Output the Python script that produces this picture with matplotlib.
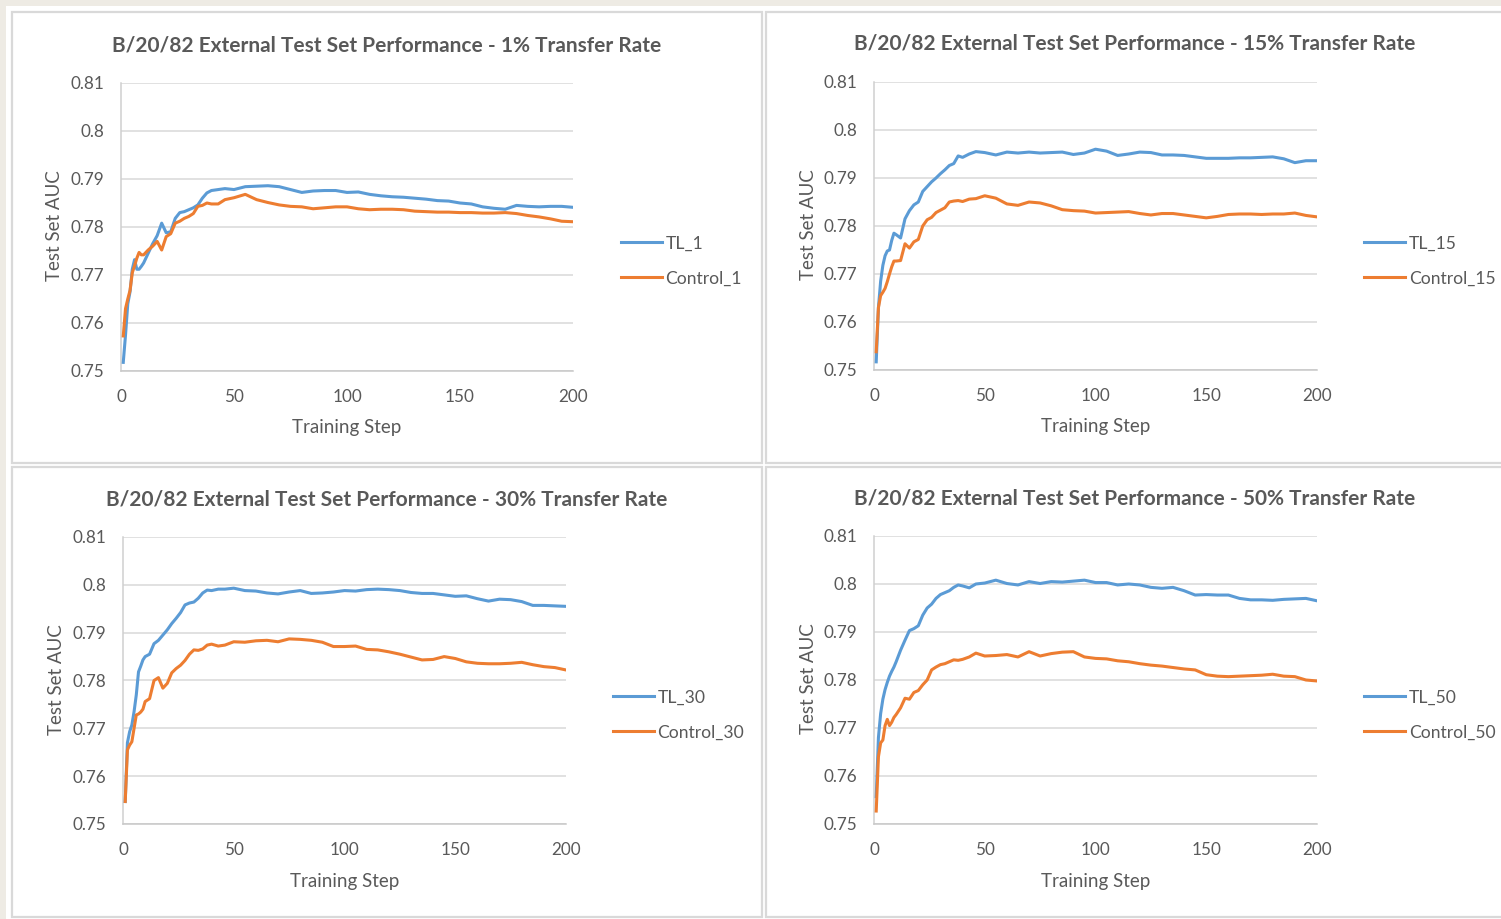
import matplotlib
matplotlib.use("Agg")
import matplotlib.pyplot as plt
from matplotlib.patches import Rectangle

# training steps at which the AUC was recorded
steps = [1, 2, 3, 4, 5, 6, 7, 8, 9, 10,
         12, 14, 16, 18, 20, 22, 24, 26, 28, 30, 32, 34, 36, 38, 40,
         43, 46, 50, 55, 60, 65, 70, 75, 80, 85, 90, 95, 100,
         105, 110, 115, 120, 125, 130, 135, 140, 145, 150,
         155, 160, 165, 170, 175, 180, 185, 190, 195, 200]

tl_1 = [0.7518, 0.7575, 0.7640, 0.7665, 0.7712, 0.7732, 0.7712, 0.7712, 0.7718, 0.7725,
        0.7745, 0.7765, 0.7782, 0.7808, 0.7788, 0.7790, 0.7818, 0.7830, 0.7832, 0.7836,
        0.7840, 0.7846, 0.7860, 0.7871, 0.7876,
        0.7878, 0.7880, 0.7878, 0.7884, 0.7885, 0.7886, 0.7884, 0.7878, 0.7872, 0.7875,
        0.7876, 0.7876, 0.7872, 0.7873, 0.7868, 0.7865, 0.7863, 0.7862, 0.7860, 0.7858,
        0.7855, 0.7854, 0.7850, 0.7848, 0.7842, 0.7839, 0.7837, 0.7845, 0.7843, 0.7842,
        0.7843, 0.7843, 0.7841]
control_1 = [0.7573, 0.7630, 0.7650, 0.7668, 0.7705, 0.7719, 0.7735, 0.7747, 0.7742, 0.7742,
             0.7752, 0.7760, 0.7770, 0.7752, 0.7780, 0.7786, 0.7808, 0.7812, 0.7818, 0.7822,
             0.7828, 0.7843, 0.7845, 0.7850, 0.7848,
             0.7848, 0.7857, 0.7861, 0.7868, 0.7857, 0.7851, 0.7846, 0.7843, 0.7842, 0.7838,
             0.7840, 0.7842, 0.7842, 0.7838, 0.7836, 0.7837, 0.7837, 0.7836, 0.7833, 0.7832,
             0.7831, 0.7831, 0.7830, 0.7830, 0.7829, 0.7829, 0.7830, 0.7828, 0.7824, 0.7821,
             0.7817, 0.7812, 0.7811]

tl_15 = [0.7517, 0.7630, 0.7685, 0.7718, 0.7738, 0.7748, 0.7750, 0.7770, 0.7785, 0.7782,
         0.7775, 0.7815, 0.7832, 0.7844, 0.7850, 0.7872, 0.7882, 0.7892, 0.7900, 0.7909,
         0.7917, 0.7926, 0.7930, 0.7946, 0.7943,
         0.7950, 0.7955, 0.7953, 0.7948, 0.7954, 0.7952, 0.7954, 0.7952, 0.7953, 0.7954,
         0.7949, 0.7952, 0.7960, 0.7956, 0.7947, 0.7950, 0.7954, 0.7953, 0.7948, 0.7948,
         0.7947, 0.7944, 0.7941, 0.7941, 0.7941, 0.7942, 0.7942, 0.7943, 0.7944, 0.7940,
         0.7932, 0.7936, 0.7936]
control_15 = [0.7538, 0.7630, 0.7655, 0.7662, 0.7670, 0.7684, 0.7700, 0.7715, 0.7727, 0.7727,
              0.7728, 0.7763, 0.7754, 0.7767, 0.7772, 0.7800, 0.7813, 0.7818, 0.7828, 0.7833,
              0.7838, 0.7850, 0.7852, 0.7853, 0.7851,
              0.7856, 0.7857, 0.7863, 0.7858, 0.7846, 0.7843, 0.7850, 0.7848, 0.7842, 0.7834,
              0.7832, 0.7831, 0.7827, 0.7828, 0.7829, 0.7830, 0.7826, 0.7823, 0.7826, 0.7826,
              0.7823, 0.7820, 0.7817, 0.7820, 0.7824, 0.7825, 0.7825, 0.7824, 0.7825, 0.7825,
              0.7827, 0.7822, 0.7819]

tl_30 = [0.7547, 0.7670, 0.7693, 0.7707, 0.7735, 0.7770, 0.7818, 0.7830, 0.7843, 0.7850,
         0.7855, 0.7877, 0.7884, 0.7895, 0.7906, 0.7919, 0.7930, 0.7942, 0.7958, 0.7962,
         0.7964, 0.7972, 0.7983, 0.7989, 0.7988,
         0.7991, 0.7991, 0.7993, 0.7988, 0.7987, 0.7983, 0.7981, 0.7985, 0.7988, 0.7982,
         0.7983, 0.7985, 0.7988, 0.7987, 0.7990, 0.7991, 0.7990, 0.7988, 0.7984, 0.7982,
         0.7982, 0.7979, 0.7976, 0.7977, 0.7971, 0.7966, 0.7970, 0.7969, 0.7965, 0.7957,
         0.7957, 0.7956, 0.7955]
control_30 = [0.7547, 0.7655, 0.7665, 0.7672, 0.7700, 0.7728, 0.7730, 0.7734, 0.7740, 0.7756,
              0.7762, 0.7800, 0.7806, 0.7784, 0.7794, 0.7816, 0.7825, 0.7832, 0.7842, 0.7855,
              0.7864, 0.7863, 0.7866, 0.7874, 0.7876,
              0.7872, 0.7874, 0.7881, 0.7880, 0.7883, 0.7884, 0.7881, 0.7887, 0.7886, 0.7884,
              0.7880, 0.7871, 0.7871, 0.7872, 0.7865, 0.7864, 0.7860, 0.7855, 0.7849, 0.7843,
              0.7844, 0.7850, 0.7846, 0.7839, 0.7836, 0.7835, 0.7835, 0.7836, 0.7838, 0.7833,
              0.7829, 0.7827, 0.7822]

tl_50 = [0.7557, 0.7680, 0.7730, 0.7760, 0.7780, 0.7795, 0.7808, 0.7818, 0.7827, 0.7838,
         0.7862, 0.7883, 0.7903, 0.7907, 0.7913, 0.7935, 0.7950, 0.7958, 0.7970, 0.7978,
         0.7982, 0.7986, 0.7993, 0.7998, 0.7996,
         0.7992, 0.8000, 0.8002, 0.8008, 0.8001, 0.7998, 0.8005, 0.8001, 0.8005, 0.8004,
         0.8006, 0.8008, 0.8003, 0.8003, 0.7998, 0.8000, 0.7998, 0.7993, 0.7991, 0.7993,
         0.7986, 0.7977, 0.7978, 0.7977, 0.7977, 0.7970, 0.7967, 0.7967, 0.7966, 0.7968,
         0.7969, 0.7970, 0.7965]
control_50 = [0.7527, 0.7640, 0.7669, 0.7675, 0.7705, 0.7718, 0.7705, 0.7712, 0.7722, 0.7728,
              0.7742, 0.7762, 0.7760, 0.7774, 0.7778, 0.7790, 0.7800, 0.7821, 0.7827, 0.7832,
              0.7834, 0.7838, 0.7842, 0.7841, 0.7843,
              0.7848, 0.7856, 0.7850, 0.7851, 0.7853, 0.7848, 0.7859, 0.7850, 0.7855, 0.7858,
              0.7859, 0.7848, 0.7845, 0.7844, 0.7840, 0.7838, 0.7834, 0.7831, 0.7829, 0.7826,
              0.7823, 0.7821, 0.7811, 0.7808, 0.7807, 0.7808, 0.7809, 0.7810, 0.7812, 0.7808,
              0.7807, 0.7800, 0.7798]

rates = [1, 15, 30, 50]
yticks = [0.75, 0.76, 0.77, 0.78, 0.79, 0.80, 0.81]
ytick_labels = ["0.75", "0.76", "0.77", "0.78", "0.79", "0.8", "0.81"]
xticks = [0, 50, 100, 150, 200]

W, H = 1501, 919
BLUE = "#5B9BD5"
ORANGE = "#ED7D31"
GREY_TXT = "#595959"
GRID = "#D9D9D9"

plt.rcParams["font.family"] = ["Lato", "DejaVu Sans"]

fig = plt.figure(figsize=(W / 100, H / 100), dpi=100)
fig.patch.set_facecolor("#EEEBE4")


def box(x0, y0, x1, y1, **kw):
    # rectangle given in pixel coords measured from the top-left corner
    r = Rectangle((x0 / W, 1 - y1 / H), (x1 - x0) / W, (y1 - y0) / H,
                  transform=fig.transFigure, zorder=-2, **kw)
    fig.add_artist(r)


box(6, 6, W + 5, H + 5, facecolor="white", edgecolor="none")

# (panel box, axes box, legend left/centre) in pixels
layout = [
    ((12, 12, 762, 463), (121, 83, 573, 371), (621, 261)),
    ((766, 12, W + 4, 463), (874, 82, 1317, 370), (1364, 261)),
    ((12, 467, 762, 917), (123, 537, 566, 824), (613, 715)),
    ((766, 467, W + 4, 917), (874, 536, 1317, 824), (1364, 715)),
]
series = [(tl_1, control_1), (tl_15, control_15), (tl_30, control_30), (tl_50, control_50)]

for rate, (tl, ctrl), (pbox, abox, leg) in zip(rates, series, layout):
    box(*pbox, facecolor="white", edgecolor=GRID, linewidth=1.6)
    l, t, r, b = abox
    ax = fig.add_axes([l / W, 1 - b / H, (r - l) / W, (b - t) / H])
    ax.set_facecolor("none")
    ax.plot(steps, tl, color=BLUE, lw=2.2, label="TL_%d" % rate, zorder=3)
    ax.plot(steps, ctrl, color=ORANGE, lw=2.2, label="Control_%d" % rate, zorder=3)

    ax.set_xlim(0, 200)
    ax.set_ylim(0.75, 0.81)
    ax.set_xticks(xticks)
    ax.set_yticks(yticks)
    ax.set_yticklabels(ytick_labels)
    ax.grid(axis="y", color=GRID, lw=1.1, zorder=0)
    ax.set_axisbelow(True)
    for s in ["top", "right"]:
        ax.spines[s].set_visible(False)
    ax.spines["left"].set_color("#D0D0D0")
    ax.spines["bottom"].set_color("#C8C8C8")
    ax.spines["left"].set_linewidth(1.1)
    ax.spines["bottom"].set_linewidth(1.1)
    ax.tick_params(axis="y", length=0, pad=12, labelsize=12.3, labelcolor=GREY_TXT)
    ax.tick_params(axis="x", length=0, pad=13, labelsize=12.3, labelcolor=GREY_TXT)

    cx = (pbox[0] + min(pbox[2], 1504)) / 2
    fig.text(cx / W, 1 - (t - 38) / H,
             "B/20/82 External Test Set Performance - %d%% Transfer Rate" % rate,
             ha="center", va="center", fontsize=15, fontweight="bold", color=GREY_TXT)
    fig.text((l - 66) / W, 1 - ((t + b) / 2 - 1) / H, "Test Set AUC",
             rotation=90, ha="center", va="center", fontsize=13.5, color=GREY_TXT)
    fig.text(((l + r) / 2) / W, 1 - (b + 57) / H, "Training Step",
             ha="center", va="center", fontsize=13.5, color=GREY_TXT)

    lg = ax.legend(loc="center left", bbox_to_anchor=(leg[0] / W, 1 - leg[1] / H),
                   bbox_transform=fig.transFigure, frameon=False, fontsize=12.6,
                   handlelength=2.35, handletextpad=0.2, labelspacing=1.08,
                   borderpad=0, borderaxespad=0)
    for txt in lg.get_texts():
        txt.set_color(GREY_TXT)

fig.savefig("out.png", dpi=100, facecolor=fig.get_facecolor())
